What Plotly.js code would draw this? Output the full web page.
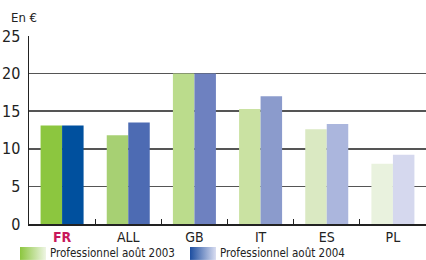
<!DOCTYPE html>
<html><head><meta charset="utf-8">
<script src="https://cdn.plot.ly/plotly-3.0.1.min.js"></script>
<style>html,body{margin:0;padding:0;background:#fff}#c{width:426px;height:260px}</style>
</head><body><div id="c"></div>
<script>
const categories = ["FR", "ALL", "GB", "IT", "ES", "PL"];
const tickLabels = ["<b>FR</b>", "ALL", "GB", "IT", "ES", "PL"];
const values2003 = [13.1, 11.8, 20.0, 15.3, 12.6, 8.0];
const values2004 = [13.1, 13.5, 20.0, 17.0, 13.3, 9.2];
const seriesNames = ["Professionnel août 2003", "Professionnel août 2004"];
const colors2003 = ["#8cc63f", "#a7d073", "#bbdc8c", "#cae2a2", "#dae9c2", "#e9f2de"];
const colors2004 = ["#00509e", "#4d6bb3", "#6e81c0", "#8b9bcc", "#abb6dd", "#d5d8ee"];

const FONT = "'Liberation Sans Narrow', 'DejaVu Sans Condensed', 'Noto Sans', sans-serif";

const traces = [
  {type: "bar", x: categories, y: values2003, name: seriesNames[0], marker: {color: colors2003, line: {width: 0}}, hoverinfo: "y"},
  {type: "bar", x: categories, y: values2004, name: seriesNames[1], marker: {color: colors2004, line: {width: 0}}, hoverinfo: "y"}
];

function grad(c1, c2) {
  const svg = `<svg xmlns="http://www.w3.org/2000/svg" width="100" height="50" preserveAspectRatio="none"><defs><linearGradient id="g" x1="0" x2="1" y1="0" y2="0"><stop offset="0" stop-color="${c1}"/><stop offset="1" stop-color="${c2}"/></linearGradient></defs><rect width="100" height="50" fill="url(#g)"/></svg>`;
  return "data:image/svg+xml;charset=utf-8," + encodeURIComponent(svg);
}

const layout = {
  width: 426, height: 260,
  margin: {l: 29, r: 0, t: 36, b: 36},
  paper_bgcolor: "#fff", plot_bgcolor: "#fff",
  showlegend: false,
  barmode: "group", bargap: 0.35, bargroupgap: 0,
  font: {family: FONT, color: "#222", size: 13},
  xaxis: {
    type: "category", range: [-0.5, 5.5], fixedrange: true,
    tickmode: "array", tickvals: categories, ticktext: tickLabels,
    tickson: "boundaries", ticks: "inside", ticklen: 5, tickcolor: "#222", tickwidth: 1,
    showline: true, linecolor: "#222", linewidth: 1.5,
    showgrid: false, tickfont: {size: 14, family: FONT, color: "#222"}
  },
  yaxis: {
    range: [0, 25], dtick: 5, fixedrange: true,
    showline: true, linecolor: "#222", linewidth: 1.5,
    showgrid: true, gridcolor: "#555555", gridwidth: 1.5,
    zeroline: false, ticks: "", ticklabelstandoff: 4,
    tickfont: {size: 16, family: FONT, color: "#222"}
  },
  annotations: [
    {text: "En €", xref: "paper", yref: "paper", x: -0.05, y: 1.1, xanchor: "left", yanchor: "middle", showarrow: false, font: {size: 13, family: FONT, color: "#222"}},
    {text: seriesNames[0], xref: "paper", yref: "paper", x: 0.048, y: -0.155, xanchor: "left", yanchor: "middle", showarrow: false, font: {size: 11.5, family: FONT, color: "#222"}},
    {text: seriesNames[1], xref: "paper", yref: "paper", x: 0.476, y: -0.155, xanchor: "left", yanchor: "middle", showarrow: false, font: {size: 11.5, family: FONT, color: "#222"}}
  ],
  images: [
    {source: grad("#8cc63f", "#eef5e4"), xref: "paper", yref: "paper", x: -0.0227, y: -0.122, sizex: 0.0655, sizey: 0.069, sizing: "stretch", xanchor: "left", yanchor: "top", layer: "above"},
    {source: grad("#1d4ea0", "#d9ddf1"), xref: "paper", yref: "paper", x: 0.4055, y: -0.122, sizex: 0.0655, sizey: 0.069, sizing: "stretch", xanchor: "left", yanchor: "top", layer: "above"}
  ]
};

Plotly.newPlot("c", traces, layout, {displayModeBar: false, staticPlot: true}).then(() => {
  document.querySelectorAll(".xtick text").forEach(t => {
    if (t.textContent === "FR") t.style.fill = "#c8175a";
  });
});
</script></body></html>
